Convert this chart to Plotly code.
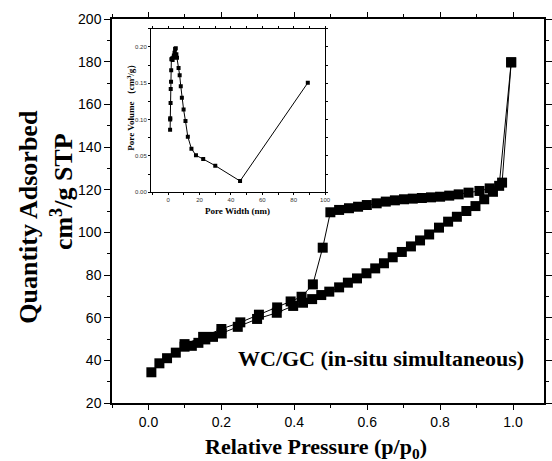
import plotly.graph_objects as go

# Adsorption branch (lower), low -> high pressure, ends at shared top point
ads_x = [0.008, 0.030, 0.051, 0.075, 0.099, 0.119, 0.137, 0.156, 0.177, 0.201, 0.245, 0.298,
         0.352, 0.397, 0.424, 0.449, 0.474, 0.496, 0.523, 0.547, 0.572, 0.598, 0.622, 0.646,
         0.670, 0.695, 0.720, 0.745, 0.770, 0.797, 0.822, 0.846, 0.872, 0.897, 0.921, 0.945,
         0.962, 0.995]
ads_y = [34.4, 38.6, 41.0, 43.6, 46.4, 46.8, 48.2, 49.8, 51.0, 52.6, 55.7, 59.4,
         62.3, 65.5, 67.0, 68.7, 70.6, 72.2, 74.2, 76.4, 78.4, 80.8, 83.1, 85.5,
         88.3, 90.8, 93.4, 96.2, 99.0, 102.2, 105.0, 107.3, 110.0, 112.3, 115.5, 119.0,
         121.8, 179.7]

# Desorption branch (upper), high -> low pressure
des_x = [0.995, 0.970, 0.936, 0.908, 0.878, 0.851, 0.825, 0.800, 0.775, 0.750, 0.725, 0.701,
         0.676, 0.651, 0.626, 0.599, 0.575, 0.550, 0.523, 0.499, 0.478, 0.451, 0.420, 0.390,
         0.353, 0.303, 0.252, 0.200, 0.150, 0.099]
des_y = [179.7, 123.3, 120.6, 119.4, 118.6, 117.8, 117.2, 116.7, 116.4, 116.1, 115.8, 115.5,
         115.0, 114.4, 113.6, 112.8, 112.0, 111.3, 110.5, 109.4, 92.8, 75.6, 69.8, 67.6,
         64.8, 61.4, 57.8, 54.7, 51.0, 47.6]

# Inset: pore size distribution
pore_w = [1.2, 1.25, 1.3, 1.5, 1.6, 1.8, 1.9, 2.0, 2.4, 2.8, 3.2, 3.6, 4.0, 4.4, 4.8, 5.2, 5.6,
          6.6, 7.3, 8.0, 8.7, 9.8, 11.0, 12.5, 14.8, 17.7, 22.3, 30.0, 45.8, 89.0]
pore_v = [0.086, 0.100, 0.102, 0.123, 0.142, 0.152, 0.168, 0.183, 0.184, 0.182, 0.185, 0.188,
          0.192, 0.197, 0.198, 0.190, 0.185, 0.171, 0.161, 0.146, 0.130, 0.114, 0.098, 0.0764,
          0.060, 0.0508, 0.0457, 0.0366, 0.0155, 0.1506]

x_ticks = [0.0, 0.2, 0.4, 0.6, 0.8, 1.0]
x_labels = ["0.0", "0.2", "0.4", "0.6", "0.8", "1.0"]
y_ticks = [20, 40, 60, 80, 100, 120, 140, 160, 180, 200]
ix_ticks = [0, 20, 40, 60, 80, 100]
iy_ticks = [0.00, 0.05, 0.10, 0.15, 0.20]
iy_labels = ["0.00", "0.05", "0.10", "0.15", "0.20"]

SERIF = "Liberation Serif"
SANS = "Liberation Sans"

fig = go.Figure()
fig.add_trace(go.Scatter(x=ads_x, y=ads_y, mode="lines+markers",
                         line=dict(color="black", width=1),
                         marker=dict(symbol="square", size=10, color="black"),
                         showlegend=False))
fig.add_trace(go.Scatter(x=des_x, y=des_y, mode="lines+markers",
                         line=dict(color="black", width=1),
                         marker=dict(symbol="square", size=10, color="black"),
                         showlegend=False))
fig.add_trace(go.Scatter(x=pore_w, y=pore_v, mode="lines+markers", xaxis="x2", yaxis="y2",
                         line=dict(color="black", width=1),
                         marker=dict(symbol="square", size=4, color="black"),
                         showlegend=False))

fig.update_layout(
    width=552, height=461,
    margin=dict(l=112, r=0, t=19, b=58),
    paper_bgcolor="white", plot_bgcolor="white",
    xaxis=dict(range=[-0.1, 1.085], tickvals=x_ticks, ticktext=x_labels,
               ticks="outside", ticklen=5, tickwidth=1, tickcolor="black",
               minor=dict(dtick=0.1, tick0=0, ticks="outside", ticklen=3, tickcolor="black"),
               showline=True, linecolor="black", linewidth=1.5, mirror="ticks",
               showgrid=False, zeroline=False,
               tickfont=dict(family=SANS, size=14, color="black")),
    yaxis=dict(range=[20, 200], tickvals=y_ticks,
               ticks="outside", ticklen=6, tickwidth=1, tickcolor="black",
               minor=dict(dtick=10, tick0=0, ticks="outside", ticklen=3, tickcolor="black"),
               showline=True, linecolor="black", linewidth=1.5, mirror="ticks",
               showgrid=False, zeroline=False,
               tickfont=dict(family=SANS, size=14, color="black")),
    xaxis2=dict(domain=[0.0902, 0.4932], anchor="y2", range=[-11, 100], tickvals=ix_ticks,
                ticks="outside", ticklen=2, tickcolor="black",
                minor=dict(dtick=10, tick0=0, ticks="outside", ticklen=1.5, tickcolor="black"),
                showline=True, linecolor="black", linewidth=1, mirror="ticks",
                showgrid=False, zeroline=False,
                tickfont=dict(family=SANS, size=6, color="#333")),
    yaxis2=dict(domain=[0.5487, 0.9747], anchor="x2", range=[0, 0.225], tickvals=iy_ticks,
                ticktext=iy_labels,
                ticks="outside", ticklen=2, tickcolor="black",
                minor=dict(dtick=0.025, tick0=0, ticks="outside", ticklen=1.5, tickcolor="black"),
                showline=True, linecolor="black", linewidth=1, mirror="ticks",
                showgrid=False, zeroline=False,
                tickfont=dict(family=SANS, size=6, color="#333")),
    annotations=[
        dict(text="<b>Relative Pressure (p/p<sub>0</sub>)</b>", xref="paper", yref="paper",
             x=0.4727, y=-0.117, showarrow=False, xanchor="center", yanchor="middle",
             font=dict(family=SERIF, size=22, color="black")),
        dict(text="<b>Quantity Adsorbed</b>", xref="paper", yref="paper",
             x=-0.193, y=0.484, textangle=-90, showarrow=False,
             xanchor="center", yanchor="middle",
             font=dict(family=SERIF, size=26, color="black")),
        dict(text="<b>cm<sup>3</sup>/g STP</b>", xref="paper", yref="paper",
             x=-0.115, y=0.55, textangle=-90, showarrow=False,
             xanchor="center", yanchor="middle",
             font=dict(family=SERIF, size=26, color="black")),
        dict(text="<b>WC/GC (in-situ simultaneous)</b>", xref="paper", yref="paper",
             x=0.6227, y=0.117, showarrow=False, xanchor="center", yanchor="middle",
             font=dict(family=SERIF, size=22, color="black")),
        dict(text="<b>Pore Width (nm)</b>", xref="paper", yref="paper",
             x=0.2909, y=0.5008, showarrow=False, xanchor="center", yanchor="middle",
             font=dict(family=SERIF, size=9, color="black")),
        dict(text="<b>Pore Volume （cm<sup>3</sup>/g）</b>", xref="paper", yref="paper",
             x=0.0432, y=0.776, textangle=-90, showarrow=False,
             xanchor="center", yanchor="middle",
             font=dict(family=SERIF, size=9, color="black")),
    ],
)

fig.write_html("out.html")
